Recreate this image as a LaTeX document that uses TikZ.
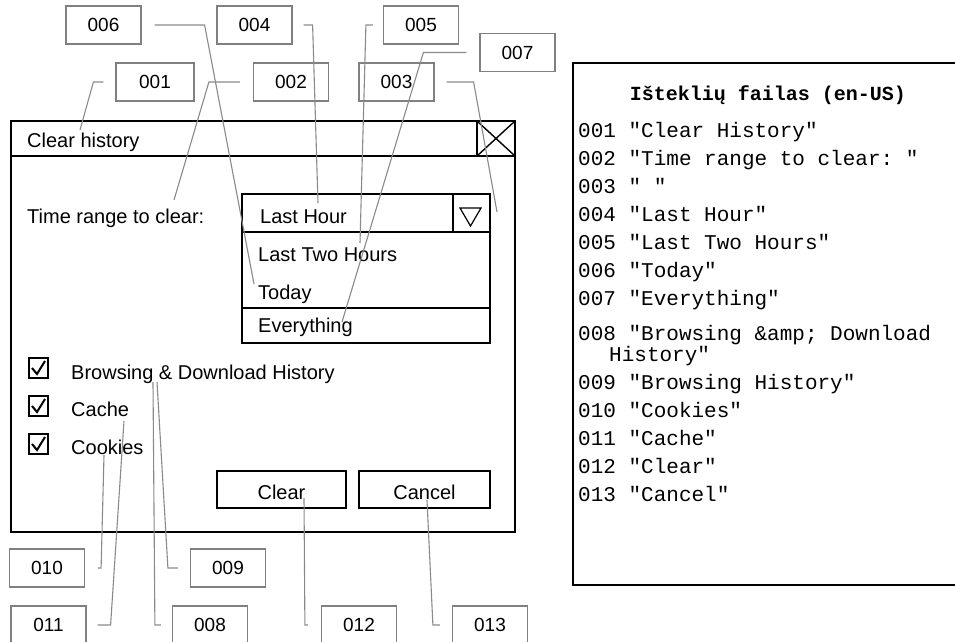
\documentclass[tikz,border=0pt]{standalone}
\usepackage{fontspec}
\setmainfont{Liberation Sans}
\setmonofont{Liberation Mono}
\definecolor{labelgray}{HTML}{808080}
\definecolor{linegray}{HTML}{8A8A8A}
\begin{document}
\begin{tikzpicture}[x=1pt,y=-1pt,
  lbl/.style={draw=labelgray, line width=1.2pt, minimum width=75pt, minimum height=38pt,
    inner sep=0pt, font=\fontsize{19}{22}\selectfont},
  conn/.style={draw=linegray, line width=1.1pt},
  ui/.style={draw=black, line width=1.4pt},
  uitext/.style={anchor=base west, inner sep=0pt, font=\fontsize{20}{24}\selectfont},
  btntext/.style={anchor=base, inner sep=0pt, font=\fontsize{20}{24}\selectfont},
  res/.style={anchor=base west, inner sep=0pt, font=\ttfamily\fontsize{21}{24}\selectfont},
  chk/.style={line width=2pt},
]
\useasboundingbox (0,0) rectangle (955,642);

% ---------- dialog window ----------
\draw[ui] (11,121) rectangle (515,532);
\draw[ui] (11,156) -- (515,156);
\draw[ui] (477,121) rectangle (515,156);
\draw[ui] (477,121) -- (515,156) (477,156) -- (515,121);
\node[uitext] (title) at (27,147) {Clear history};

% time range combo box with its open list
\node[uitext] (trange) at (27,223) {Time range to clear:};
\draw[ui] (242,194) rectangle (490,232);
\draw[ui] (453,194) -- (453,232);
\draw[line width=1.2pt] (460,208) -- (481,208) -- (470.5,226) -- cycle;
\draw[ui] (242,232) rectangle (490,343);
\draw[ui] (242,308) -- (490,308);
\node[uitext] (lasthour) at (260,223) {Last Hour};
\node[uitext] (twohours) at (258,261) {Last Two Hours};
\node[uitext] (today) at (258,299) {Today};
\node[uitext] (every) at (258,332) {Everything};

% check boxes
\foreach \yy in {378,416,454}{
  \draw[chk] (29,\yy-20) rectangle (48,\yy);
  \draw[chk] (32,\yy-10) -- (37,\yy-4) -- (45,\yy-17);
}
\node[uitext] (browsing) at (71,379) {Browsing \& Download History};
\node[uitext] (cache) at (71,416) {Cache};
\node[uitext] (cookies) at (71,454) {Cookies};

% buttons
\draw[ui] (217,471) rectangle (346,508);
\draw[ui] (359,471) rectangle (490,508);
\node[btntext] (clear) at (281.5,499) {Clear};
\node[btntext] (cancel) at (424.5,499) {Cancel};

% ---------- resource ids ----------
\node[lbl] (l006) at (103.5,25) {006};
\node[lbl] (l004) at (254.5,25) {004};
\node[lbl] (l005) at (421,25) {005};
\node[lbl] (l007) at (517.5,52.5) {007};
\node[lbl, minimum width=78pt] (l001) at (155,82) {001};
\node[lbl] (l002) at (291,82) {002};
\node[lbl] (l003) at (396.5,82) {003};
\node[lbl] (l010) at (47,568) {010};
\node[lbl] (l009) at (228,568) {009};
\node[lbl] (l011) at (48.5,625) {011};
\node[lbl] (l008) at (210,625) {008};
\node[lbl] (l012) at (359,625) {012};
\node[lbl] (l013) at (490,625) {013};

% points on the texts the ids refer to
\coordinate (t006) at (254,284);
\coordinate (t004) at (318,203);
\coordinate (t005) at (360,243);
\coordinate (t007) at (342,322);
\coordinate (t001) at (80,130);
\coordinate (t002) at (174,200);
\coordinate (t003) at (497,212);
\coordinate (t010) at (104,455);
\coordinate (t011) at (124,421);
\coordinate (t008) at (153,382);
\coordinate (t009) at (157,382);
\coordinate (t012) at (304,498);
\coordinate (t013) at (427,500);

\draw[conn] ([xshift=13pt]l006.east) -- ++(50,0) -- (t006);
\draw[conn] ([xshift=11pt]l004.east) -- ++(9,0) -- (t004);
\draw[conn] ([xshift=-10pt]l005.west) -- ++(-7,0) -- (t005);
\draw[conn] ([xshift=-13pt]l007.west) -- ++(-43,0) -- (t007);
\draw[conn] ([xshift=-12pt]l001.west) -- ++(-10,0) -- (t001);
\draw[conn] ([xshift=-13pt]l002.west) -- ++(-31,0) -- (t002);
\draw[conn] ([xshift=12pt]l003.east) -- ++(27,0) -- (t003);
\draw[conn] ([xshift=13pt]l010.east) -- ++(3,0) -- (t010);
\draw[conn] ([xshift=11pt]l011.east) -- ++(13,0) -- (t011);
\draw[conn] ([xshift=-11pt]l008.west) -- ++(-6,0) -- (t008);
\draw[conn] ([xshift=-12pt]l009.west) -- ++(-10,0) -- (t009);
\draw[conn] ([xshift=-13pt]l012.west) -- ++(-3,0) -- (t012);
\draw[conn] ([xshift=-12pt]l013.west) -- ++(-7,0) -- (t013);

% ---------- resource file panel ----------
\draw[ui] (962,63) -- (573,63) -- (573,585) -- (962,585);
\node[anchor=base, inner sep=0pt, font=\ttfamily\bfseries\fontsize{20}{24}\selectfont]
  (rtitle) at (768,100) {Išteklių failas (en-US)};
\node[res] (r001) at (578,137) {001 "Clear History"};
\node[res] (r002) at (578,165) {002 "Time range to clear: "};
\node[res] (r003) at (578,193) {003 " "};
\node[res] (r004) at (578,221) {004 "Last Hour"};
\node[res] (r005) at (578,249) {005 "Last Two Hours"};
\node[res] (r006) at (578,277) {006 "Today"};
\node[res] (r007) at (578,305) {007 "Everything"};
\node[res] (r008) at (578,340) {008 "Browsing \&amp; Download};
\node[res] (r008b) at (609,361) {History"};
\node[res] (r009) at (578,389) {009 "Browsing History"};
\node[res] (r010) at (578,417) {010 "Cookies"};
\node[res] (r011) at (578,445) {011 "Cache"};
\node[res] (r012) at (578,473) {012 "Clear"};
\node[res] (r013) at (578,501) {013 "Cancel"};
\end{tikzpicture}
\end{document}
